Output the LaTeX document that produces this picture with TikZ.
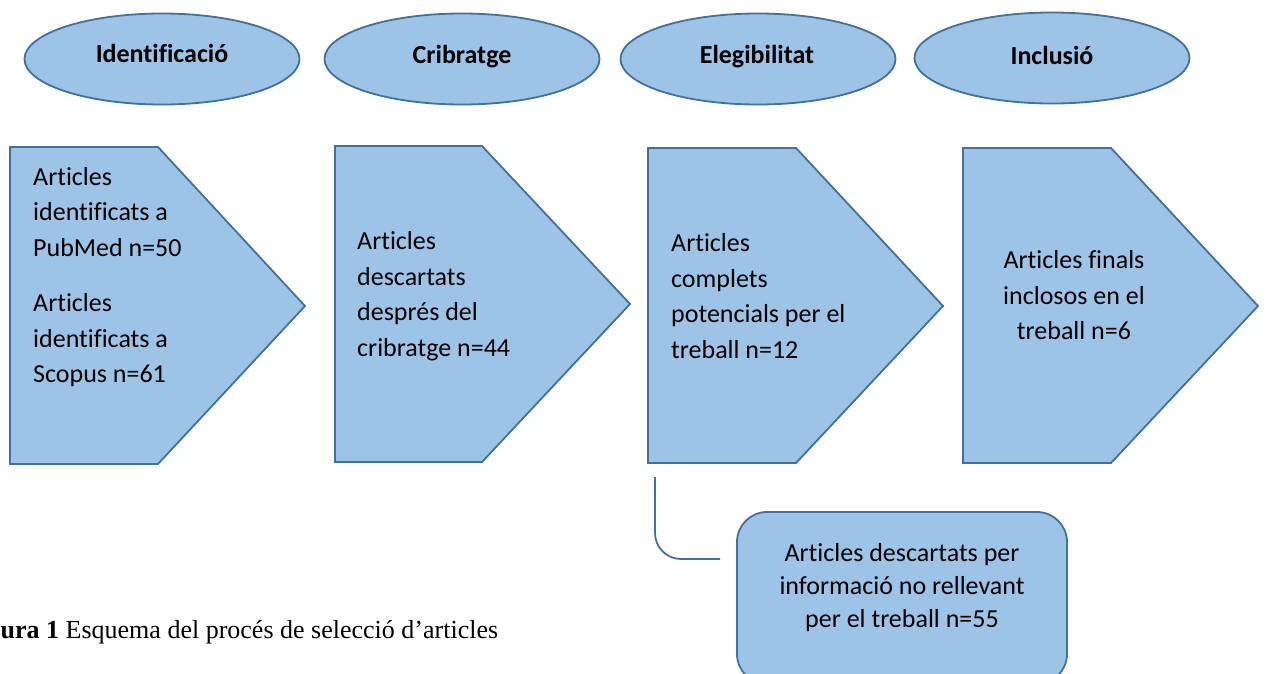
\documentclass[tikz,border=0pt]{standalone}
\usepackage{fontspec}
\setmainfont{Carlito}[Ligatures=NoCommon]
\newfontfamily\peufont{Liberation Serif}
\usetikzlibrary{shapes.geometric, positioning}
\definecolor{omplir}{RGB}{157,195,230}
\definecolor{vora}{RGB}{65,113,156}
\tikzstyle{fase}=[ellipse, draw=vora, fill=omplir, line width=1.8pt, minimum width=275pt, minimum height=91pt, inner sep=0pt]
\tikzstyle{fasetxt}=[font=\fontsize{26}{30}\selectfont\bfseries, inner sep=0pt]
\tikzstyle{fletxa}=[draw=vora, fill=omplir, line width=1.8pt, line join=miter]
\tikzstyle{txt}=[font=\fontsize{26}{35.5}\selectfont, inner sep=0pt]
\tikzstyle{descart}=[rectangle, rounded corners=30pt, draw=vora, fill=omplir, line width=1.8pt, minimum width=330pt, minimum height=172pt, inner sep=0pt]

\begin{document}
\begin{tikzpicture}[x=1pt, y=-1pt]
    \clip (0,0) rectangle (1267,673);

    % fases
    \node[fase] (e1) at (162,59) {};
    \node[fase] (e2) at (462,59) {};
    \node[fase] (e3) at (758,59) {};
    \node[fase] (e4) at (1052,58) {};
    \node[fasetxt] (t1) at (162,53) {Identificació};
    \node[fasetxt] (t2) at (462,57) {Cribratge};
    \node[fasetxt] (t3) at (757,57) {Elegibilitat};
    \node[fasetxt] (t4) at (1052,55) {Inclusió};

    % fletxes
    \draw[fletxa] (10,147) -- (158,147) -- (305,306) -- (158,464) -- (10,464) -- cycle;
    \draw[fletxa] (335,146) -- (482,146) -- (630,304) -- (482,462) -- (335,462) -- cycle;
    \draw[fletxa] (648,148) -- (796,148) -- (943,306) -- (796,463) -- (648,463) -- cycle;
    \draw[fletxa] (963,148) -- (1111,148) -- (1258,306) -- (1111,463) -- (963,463) -- cycle;

    \node[txt, anchor=west, align=left] (a1) at (33,277)
      {Articles\\identificats a\\PubMed n=50\\[20pt]Articles\\identificats a\\Scopus n=61};
    \node[txt, anchor=west, align=left] (a2) at (357,296)
      {Articles\\descartats\\després del\\cribratge n=44};
    \node[txt, anchor=west, align=left] (a3) at (671,296)
      {Articles\\complets\\potencials per el\\treball n=12};
    \node[txt, align=center] (a4) at (1074,295.5)
      {Articles finals\\inclosos en el\\treball n=6};

    % descartats
    \node[descart] (d) at (902,598) {};
    \node[txt, align=center, font=\fontsize{26}{33}\selectfont] (dt) at (902,588)
      {Articles descartats per\\informació no rellevant\\per el treball n=55};
    \coordinate (c3) at (655,477);
    \coordinate (cfi) at (720,559);
    \draw[vora, line width=1.8pt, rounded corners=26pt] (c3) |- (cfi);

    \node[font=\peufont\fontsize{26}{30}\selectfont, anchor=base west, inner sep=0pt] (peu) at (0.5,638)
      {\textbf{ura 1} Esquema del procés de selecció d’articles};
\end{tikzpicture}
\end{document}
